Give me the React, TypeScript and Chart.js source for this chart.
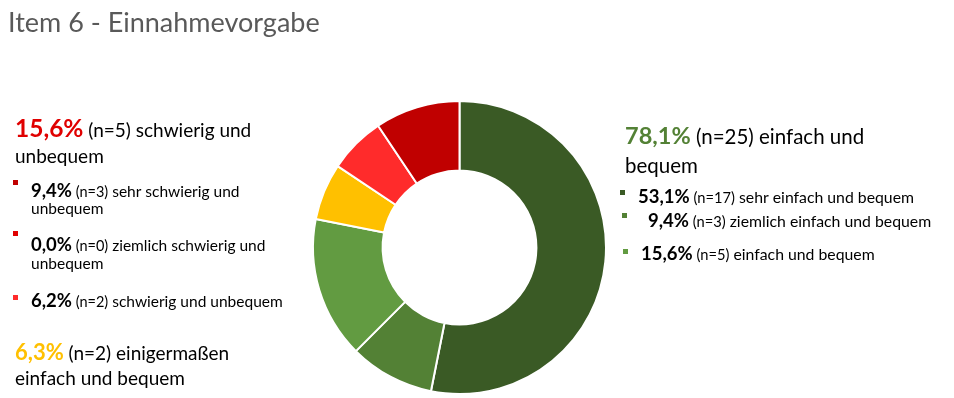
import React, { useEffect, useRef } from "react";
import { Chart, registerables } from "chart.js";

Chart.register(...registerables);

// ---------- data ----------
const chartTitle = "Item 6 - Einnahmevorgabe";
const categories = [
  "sehr einfach und bequem",
  "ziemlich einfach und bequem",
  "einfach und bequem",
  "einigermaßen einfach und bequem",
  "schwierig und unbequem",
  "ziemlich schwierig und unbequem",
  "sehr schwierig und unbequem",
];
const counts = [17, 3, 5, 2, 2, 0, 3];
const percentLabels = ["53,1%", "9,4%", "15,6%", "6,3%", "6,2%", "0,0%", "9,4%"];
const groupNames = ["einfach und bequem", "schwierig und unbequem"];
const groupCounts = [25, 5];
const groupPercents = ["78,1%", "15,6%"];

// ---------- styles ----------
const sliceColors = ["#3A5A25", "#538135", "#629B41", "#FFC000", "#FF2B2B", "#E00000", "#C00000"];
const FONT = "Lato, 'Open Sans', sans-serif";
const f = (size: number, bold = false) => `${bold ? "bold " : ""}${size}px ${FONT}`;

type Part = { text: string; font: string; color: string };
type Line = { x: number; y: number; parts: Part[] };
type Square = { x: number; y: number; s: number; color: string };

const BLACK = "#000000";

function bulletLines(
  i: number,
  x: number,
  y: number,
  split: number | null,
  lh: number,
  sizes: [number, number, number]
): Line[] {
  const words = categories[i].split(" ");
  const first = split == null ? words.join(" ") : words.slice(0, split).join(" ");
  const rest = split == null ? "" : words.slice(split).join(" ");
  const out: Line[] = [
    {
      x,
      y,
      parts: [
        { text: percentLabels[i], font: f(sizes[0], true), color: BLACK },
        { text: ` (n=${counts[i]})`, font: f(sizes[1]), color: BLACK },
        { text: " " + first, font: f(sizes[2]), color: BLACK },
      ],
    },
  ];
  if (rest) out.push({ x, y: y + lh, parts: [{ text: rest, font: f(sizes[2]), color: BLACK }] });
  return out;
}

const LEFT_B: [number, number, number] = [18.5, 14.5, 15.5];
const RIGHT_B: [number, number, number] = [18.5, 14.7, 15.8];

function splitGroup(name: string, n: number): [string, string] {
  const w = name.split(" ");
  return [w.slice(0, n).join(" "), w.slice(n).join(" ")];
}
const [rightHead1, rightHead2] = splitGroup(groupNames[0], 2);
const [leftHead1, leftHead2] = splitGroup(groupNames[1], 2);
const [midHead1, midHead2] = splitGroup(categories[3], 1);

const textLines: Line[] = [
  { x: 8, y: 32, parts: [{ text: chartTitle, font: f(27), color: "#595959" }] },
  // right group header
  {
    x: 625,
    y: 144,
    parts: [
      { text: groupPercents[0], font: f(23.5, true), color: "#538135" },
      { text: ` (n=${groupCounts[0]}) ${rightHead1}`, font: f(20.5), color: BLACK },
    ],
  },
  { x: 625, y: 173, parts: [{ text: rightHead2, font: f(20.5), color: BLACK }] },
  ...bulletLines(0, 638, 203, null, 0, RIGHT_B),
  ...bulletLines(1, 648, 227, null, 0, RIGHT_B),
  ...bulletLines(2, 641, 260, null, 0, RIGHT_B),
  // left group header
  {
    x: 15,
    y: 137,
    parts: [
      { text: groupPercents[1], font: f(24.5, true), color: "#E00000" },
      { text: ` (n=${groupCounts[1]}) ${leftHead1}`, font: f(19), color: BLACK },
    ],
  },
  { x: 15, y: 163, parts: [{ text: leftHead2, font: f(19), color: BLACK }] },
  ...bulletLines(6, 31, 197, 3, 17, LEFT_B),
  ...bulletLines(5, 31, 251, 3, 18, LEFT_B),
  ...bulletLines(4, 31, 307, null, 0, LEFT_B),
  // einigermaßen
  {
    x: 15,
    y: 360,
    parts: [
      { text: percentLabels[3], font: f(22, true), color: "#FFC000" },
      { text: ` (n=${counts[3]}) ${midHead1}`, font: f(19), color: BLACK },
    ],
  },
  { x: 15, y: 385, parts: [{ text: midHead2, font: f(19), color: BLACK }] },
];

const squares: Square[] = [
  { x: 620, y: 190, s: 5, color: sliceColors[0] },
  { x: 622, y: 213, s: 5, color: sliceColors[1] },
  { x: 623, y: 249, s: 5, color: sliceColors[2] },
  { x: 13, y: 180, s: 5, color: sliceColors[6] },
  { x: 13, y: 231, s: 5, color: sliceColors[5] },
  { x: 13, y: 295, s: 5, color: sliceColors[4] },
];

const textPlugin = {
  id: "annotTexts",
  afterDraw(chart: any) {
    const ctx = chart.ctx as CanvasRenderingContext2D;
    ctx.save();
    ctx.textBaseline = "alphabetic";
    ctx.textAlign = "left";
    for (const line of textLines) {
      let cx = line.x;
      for (const p of line.parts) {
        ctx.font = p.font;
        ctx.fillStyle = p.color;
        ctx.fillText(p.text, cx, line.y);
        cx += ctx.measureText(p.text).width;
      }
    }
    for (const sq of squares) {
      ctx.fillStyle = sq.color;
      ctx.fillRect(sq.x, sq.y, sq.s, sq.s);
    }
    ctx.restore();
  },
};

export default function App() {
  const ref = useRef<HTMLCanvasElement | null>(null);
  useEffect(() => {
    if (!ref.current) return;
    const chart = new Chart(ref.current, {
      type: "doughnut",
      data: {
        labels: categories,
        datasets: [
          {
            data: counts,
            backgroundColor: sliceColors,
            borderColor: "#FFFFFF",
            borderWidth: 2,
            hoverOffset: 0,
            offset: 0,
          },
        ],
      },
      options: {
        responsive: false,
        animation: false,
        cutout: "52.5%",
        layout: { padding: { left: 312, right: 347, top: 100, bottom: 3 } },
        plugins: {
          legend: { display: false },
          tooltip: { enabled: false },
          title: { display: false },
        },
      },
      plugins: [textPlugin],
    });
    return () => chart.destroy();
  }, []);
  return (
    <div style={{ position: "absolute", left: 0, top: 0, width: 954, height: 398, background: "#FFFFFF" }}>
      <canvas ref={ref} width={954} height={398} />
    </div>
  );
}
